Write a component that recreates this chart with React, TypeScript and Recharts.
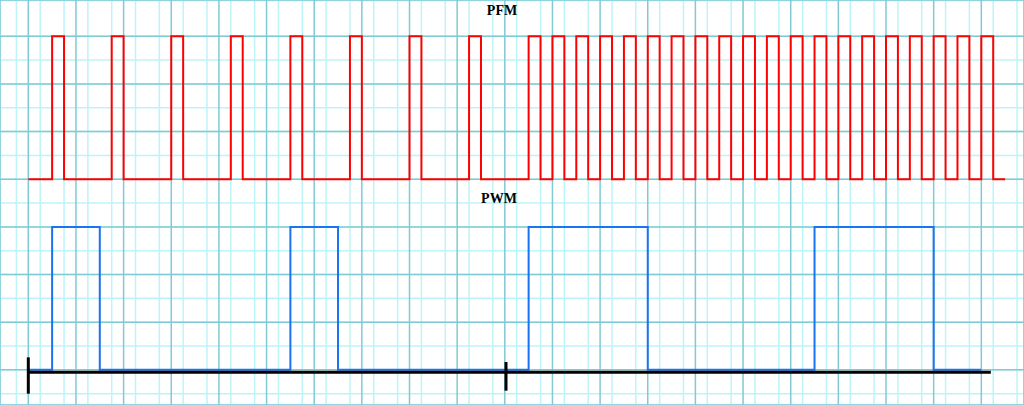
import React from "react";
import { LineChart, Line, XAxis, YAxis, CartesianGrid, ReferenceLine } from "recharts";

// Time positions (in grid units) of pulse edges
const pfmRise = [2, 7, 12, 17, 22, 27, 32, 37, 42, 44, 46, 48, 50, 52, 54, 56, 58, 60, 62, 64, 66, 68, 70, 72, 74, 76, 78, 80];
const pfmFall = [3, 8, 13, 18, 23, 28, 33, 38, 43, 45, 47, 49, 51, 53, 55, 57, 59, 61, 63, 65, 67, 69, 71, 73, 75, 77, 79, 81];
const pfmStart = 0;
const pfmEnd = 82;
const pfmLow = 16;
const pfmHigh = 28;

const pwmRise = [2, 22, 42, 66];
const pwmFall = [6, 26, 52, 76];
const pwmStart = 0;
const pwmEnd = 80;
const pwmLow = 0;
const pwmHigh = 12;

const titles = ["PFM", "PWM"];

// black time axis
const axisY = -0.2;
const axisStart = 0;
const axisEnd = 80.8;
const axisTickX = [0, 40.1];
const axisTickLow = [-2, -1.75];
const axisTickHigh = [1.05, 0.66];

const X_MIN = -2.3757;
const X_MAX = 83.584;
const Y_MIN = -2.951;
const Y_MAX = 31.047;

const range = (a: number, b: number, s: number) => {
  const out: number[] = [];
  for (let v = a; v <= b + 1e-9; v += s) out.push(v);
  return out;
};
const minorX = range(-2, 83, 1);
const majorX = range(0, 80, 4);
const minorY = range(-2, 31, 1);
const majorY = range(0, 28, 4);

function buildSteps(start: number, end: number, rise: number[], fall: number[], lo: number, hi: number) {
  const pts: { x: number; y: number }[] = [{ x: start, y: lo }];
  rise.forEach((r, i) => {
    pts.push({ x: r, y: lo });
    pts.push({ x: r, y: hi });
    pts.push({ x: fall[i], y: hi });
    pts.push({ x: fall[i], y: lo });
  });
  pts.push({ x: end, y: lo });
  return pts;
}

const pfmData = buildSteps(pfmStart, pfmEnd, pfmRise, pfmFall, pfmLow, pfmHigh);
const pwmData = buildSteps(pwmStart, pwmEnd, pwmRise, pwmFall, pwmLow, pwmHigh);

export default function App() {
  return (
    <div style={{ position: "absolute", left: 0, top: 0, width: 1024, height: 405, background: "#fff" }}>
      <LineChart width={1024} height={405} margin={{ top: 0, right: 0, bottom: 0, left: 0 }}>
        <XAxis xAxisId="main" type="number" dataKey="x" domain={[X_MIN, X_MAX]} allowDataOverflow hide />
        <XAxis xAxisId="minor" type="number" dataKey="x" domain={[X_MIN, X_MAX]} ticks={minorX} allowDataOverflow hide />
        <XAxis xAxisId="major" type="number" dataKey="x" domain={[X_MIN, X_MAX]} ticks={majorX} allowDataOverflow hide />
        <YAxis yAxisId="main" type="number" dataKey="y" domain={[Y_MIN, Y_MAX]} allowDataOverflow hide />
        <YAxis yAxisId="minor" type="number" dataKey="y" domain={[Y_MIN, Y_MAX]} ticks={minorY} allowDataOverflow hide />
        <YAxis yAxisId="major" type="number" dataKey="y" domain={[Y_MIN, Y_MAX]} ticks={majorY} allowDataOverflow hide />
        <CartesianGrid xAxisId="minor" yAxisId="minor" stroke="#bdf4f7" strokeWidth={1.5} />
        <CartesianGrid xAxisId="major" yAxisId="major" stroke="#80cad4" strokeWidth={1.5} />
        <Line
          xAxisId="main"
          yAxisId="main"
          data={pfmData}
          dataKey="y"
          type="linear"
          stroke="#ff0000"
          strokeWidth={2}
          dot={false}
          isAnimationActive={false}
        />
        <Line
          xAxisId="main"
          yAxisId="main"
          data={pwmData}
          dataKey="y"
          type="linear"
          stroke="#1a73f0"
          strokeWidth={2}
          dot={false}
          isAnimationActive={false}
        />
        <ReferenceLine
          xAxisId="main"
          yAxisId="main"
          segment={[{ x: axisStart, y: axisY }, { x: axisEnd, y: axisY }]}
          stroke="#000"
          strokeWidth={3}
          ifOverflow="visible"
        />
        {axisTickX.map((tx, i) => (
          <ReferenceLine
            key={i}
            xAxisId="main"
            yAxisId="main"
            segment={[{ x: tx, y: axisTickLow[i] }, { x: tx, y: axisTickHigh[i] }]}
            stroke="#000"
            strokeWidth={3}
            ifOverflow="visible"
          />
        ))}
        <text x={502} y={15} textAnchor="middle" fontFamily="'Liberation Serif', serif" fontWeight="bold" fontSize={14} fill="#000">
          {titles[0]}
        </text>
        <text x={499} y={203} textAnchor="middle" fontFamily="'Liberation Serif', serif" fontWeight="bold" fontSize={14} fill="#000">
          {titles[1]}
        </text>
      </LineChart>
    </div>
  );
}
